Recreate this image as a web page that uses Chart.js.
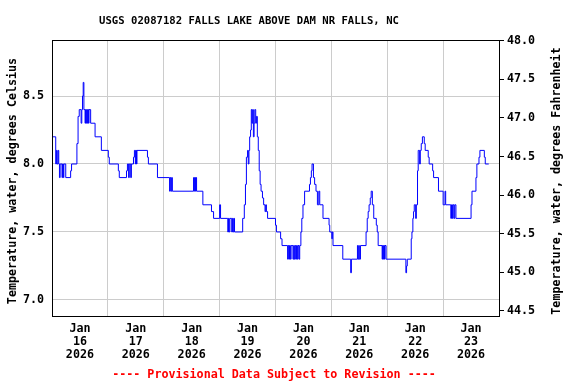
<!DOCTYPE html>
<html lang="en">
<head>
    <meta charset="UTF-8">
    <title>USGS 02087182 Falls Lake water temperature</title>
    <script src="https://cdn.jsdelivr.net/npm/chart.js"></script>
    <style>
        body { margin: 0; background: #fff; }
        #wrap { position: relative; width: 576px; height: 384px; }
        .label {
            position: absolute;
            transform: translate(-50%, -50%);
            white-space: nowrap;
            font-family: 'DejaVu Sans Mono', monospace;
            font-weight: bold;
        }
        #title { left: 249px; top: 20px; font-size: 10.6px; color: #000; }
        #footer { left: 274px; top: 374px; font-size: 11.7px; color: #ff0000; }
    </style>
</head>
<body>
    <div id="wrap">
        <canvas id="tempChart" width="576" height="384"></canvas>
        <div id="title" class="label">USGS 02087182 FALLS LAKE ABOVE DAM NR FALLS, NC</div>
        <div id="footer" class="label">---- Provisional Data Subject to Revision ----</div>
    </div>

    <script>
        // hours since Jan 16 2026 00:00, and the reading that starts at that hour
        const hours = [
            0, 1.6, 1.9, 2.2, 2.6, 2.9, 3.2, 3.5, 4.3, 4.5, 4.9, 5.1, 5.9, 8.0, 8.4,
            10.7, 11.2, 11.7, 12.5, 12.8, 13.1, 13.4, 13.7, 14.2, 14.4, 14.7, 14.9, 15.2, 15.4, 15.7, 15.9,
            16.6, 18.5, 21.2, 24.2, 24.6, 28.5, 28.9, 32.0, 32.4, 32.9, 33.2, 33.8, 34.1,
            35.0, 35.4, 35.8, 36.0, 36.3, 36.5, 41.0, 41.4, 45.3,
            50.5, 50.8, 51.1, 51.4, 51.7, 60.8, 61.1, 61.3, 61.6, 61.8, 62.1,
            64.8, 68.5, 69.4, 72.0, 72.4, 75.5, 75.8, 76.1, 76.4, 77.2, 77.5, 77.8, 78.1, 78.4,
            81.9, 82.6, 83.1, 83.5, 84.0, 84.3, 84.6, 84.9, 85.3, 85.6, 85.9, 86.2, 86.5, 86.8, 87.1, 87.5, 87.8,
            88.2, 88.6, 89.0, 89.4, 89.8, 90.4, 90.9, 91.5, 91.8, 92.1, 92.6,
            96.0, 96.4, 98.2, 98.8,
            101.2, 101.5, 101.8, 102.0, 102.4, 102.7, 103.5, 103.8, 104.1, 104.4, 104.7, 105.0, 105.4, 105.7, 106.1, 106.4,
            106.9, 107.3, 107.8, 108.5, 110.6, 111.0, 111.4, 111.7, 112.3, 112.8, 113.4, 114.0, 114.6, 115.0, 116.4,
            119.0, 119.3, 120.2, 120.4, 120.7, 124.9, 128.3, 128.6,
            131.2, 131.5, 131.8, 132.0, 132.5, 134.9, 135.4, 135.8, 136.2, 136.7, 137.1, 137.6, 138.2,
            139.3, 139.7, 140.1, 141.8, 142.0, 142.3, 142.5, 142.8, 143.0, 143.5,
            152.0, 152.3, 152.6, 154.3, 154.6, 155.0, 155.3, 155.6, 156.2, 156.5, 157.0, 157.3, 157.9, 158.2, 158.6,
            159.1, 159.9, 160.3, 161.6, 162.0, 163.5, 163.9, 166.0, 168.0, 168.8, 169.1,
            171.3, 171.6, 172.0, 172.3, 172.7, 173.0, 173.5, 180.0, 180.4, 182.1, 182.5, 183.4, 183.8, 185.7, 186.1, 187.6
        ];
        const tempC = [
            8.2, 8.0, 8.1, 8.0, 8.1, 8.0, 7.9, 8.0, 7.9, 8.0, 7.9, 8.0, 7.9, 7.95, 8.0,
            8.15, 8.35, 8.4, 8.3, 8.4, 8.5, 8.6, 8.4, 8.3, 8.4, 8.3, 8.4, 8.3, 8.4, 8.3, 8.4,
            8.3, 8.2, 8.1, 8.05, 8.0, 7.95, 7.9, 7.95, 8.0, 7.9, 8.0, 7.9, 8.0,
            8.05, 8.1, 8.0, 8.1, 8.0, 8.1, 8.05, 8.0, 7.9,
            7.8, 7.9, 7.8, 7.9, 7.8, 7.9, 7.8, 7.9, 7.8, 7.9, 7.8,
            7.7, 7.65, 7.6, 7.7, 7.6, 7.5, 7.6, 7.5, 7.6, 7.5, 7.6, 7.5, 7.6, 7.5,
            7.6, 7.7, 7.85, 8.05, 8.1, 8.0, 8.1, 8.2, 8.25, 8.4, 8.3, 8.4, 8.2, 8.3, 8.4, 8.3, 8.35,
            8.2, 8.1, 7.95, 7.85, 7.8, 7.75, 7.7, 7.65, 7.7, 7.65, 7.6,
            7.55, 7.5, 7.45, 7.4,
            7.3, 7.4, 7.3, 7.4, 7.3, 7.4, 7.3, 7.4, 7.3, 7.4, 7.3, 7.4, 7.3, 7.4, 7.3, 7.4,
            7.5, 7.6, 7.7, 7.8, 7.85, 7.9, 7.95, 8.0, 7.9, 7.85, 7.8, 7.7, 7.8, 7.7, 7.6,
            7.55, 7.5, 7.45, 7.5, 7.4, 7.3, 7.2, 7.3,
            7.4, 7.3, 7.4, 7.3, 7.4, 7.5, 7.6, 7.65, 7.7, 7.75, 7.8, 7.7, 7.6,
            7.55, 7.5, 7.4, 7.3, 7.4, 7.3, 7.4, 7.3, 7.4, 7.3,
            7.2, 7.25, 7.3, 7.45, 7.5, 7.6, 7.65, 7.7, 7.6, 7.7, 7.95, 8.1, 8.0, 8.1, 8.15,
            8.2, 8.15, 8.1, 8.05, 8.0, 7.95, 7.9, 7.8, 7.7, 7.8, 7.7,
            7.6, 7.7, 7.6, 7.7, 7.6, 7.7, 7.6, 7.7, 7.8, 7.9, 8.0, 8.05, 8.1, 8.05, 8.0, 8.0
        ];

        const dayLabels = ['16', '17', '18', '19', '20', '21', '22', '23'];
        const xTickHours = [0, 12, 24, 36, 48, 60, 72, 84, 96, 108, 120, 132, 144, 156, 168, 180, 192];
        const celsiusTicks = [7.0, 7.5, 8.0, 8.5];
        const fahrenheitTicks = [44.5, 45.0, 45.5, 46.0, 46.5, 47.0, 47.5, 48.0];

        const monoFont = { family: 'DejaVu Sans Mono', size: 11.7, weight: 'bold', lineHeight: 1.1 };
        const gridColor = '#cccccc';

        // frame round the plot and the two rotated axis titles
        const framePlugin = {
            id: 'frame',
            afterDraw(chart) {
                const { ctx, chartArea: a } = chart;
                ctx.save();
                ctx.strokeStyle = '#000';
                ctx.lineWidth = 1;
                ctx.strokeRect(a.left + 0.5, a.top + 0.5, a.right - a.left, a.bottom - a.top);

                ctx.font = 'bold 11.7px "DejaVu Sans Mono"';
                ctx.fillStyle = '#000';
                ctx.textAlign = 'center';
                ctx.textBaseline = 'middle';
                const midY = 181;
                [[13, 'Temperature, water, degrees Celsius'], [557, 'Temperature, water, degrees Fahrenheit']].forEach(([x, text]) => {
                    ctx.save();
                    ctx.translate(x, midY);
                    ctx.rotate(-Math.PI / 2);
                    ctx.fillText(text, 0, 0);
                    ctx.restore();
                });
                ctx.restore();
            }
        };

        const ctx = document.getElementById('tempChart').getContext('2d');
        new Chart(ctx, {
            type: 'line',
            data: {
                datasets: [{
                    data: hours.map((h, i) => ({ x: h, y: tempC[i] })),
                    borderColor: '#0000ff',
                    borderWidth: 1,
                    stepped: true,
                    pointRadius: 0,
                    fill: false
                }]
            },
            options: {
                responsive: false,
                animation: false,
                layout: { padding: { top: 40, left: 0, right: 0, bottom: 0 } },
                plugins: {
                    legend: { display: false },
                    tooltip: { enabled: false },
                    title: { display: false }
                },
                scales: {
                    x: {
                        type: 'linear',
                        min: 0,
                        max: 192,
                        afterBuildTicks: s => { s.ticks = xTickHours.map(v => ({ value: v })); },
                        afterFit: s => { s.height = 68; },
                        border: { display: false },
                        grid: {
                            drawTicks: false,
                            color: c => (c.tick && c.tick.value % 24 === 0) ? gridColor : 'rgba(0,0,0,0)'
                        },
                        ticks: {
                            autoSkip: false,
                            maxRotation: 0,
                            padding: 7,
                            color: '#000',
                            font: monoFont,
                            callback: v => v % 24 === 12 ? ['Jan', dayLabels[(v - 12) / 24], '2026'] : ''
                        }
                    },
                    y: {
                        position: 'left',
                        min: 6.882,
                        max: 8.912,
                        afterBuildTicks: s => { s.ticks = celsiusTicks.map(v => ({ value: v })); },
                        afterFit: s => { s.width = 52; },
                        border: { display: false },
                        grid: { color: gridColor, drawTicks: false },
                        ticks: { padding: 8, color: '#000', font: monoFont, callback: v => v.toFixed(1) }
                    },
                    y2: {
                        position: 'right',
                        min: 44.435,
                        max: 48.009,
                        afterBuildTicks: s => { s.ticks = fahrenheitTicks.map(v => ({ value: v })); },
                        afterFit: s => { s.width = 77; },
                        border: { display: false },
                        grid: { drawOnChartArea: false, drawTicks: true, tickLength: 5, color: '#000' },
                        ticks: { padding: 3, color: '#000', font: monoFont, callback: v => v.toFixed(1) }
                    }
                }
            },
            plugins: [framePlugin]
        });
    </script>
</body>
</html>
